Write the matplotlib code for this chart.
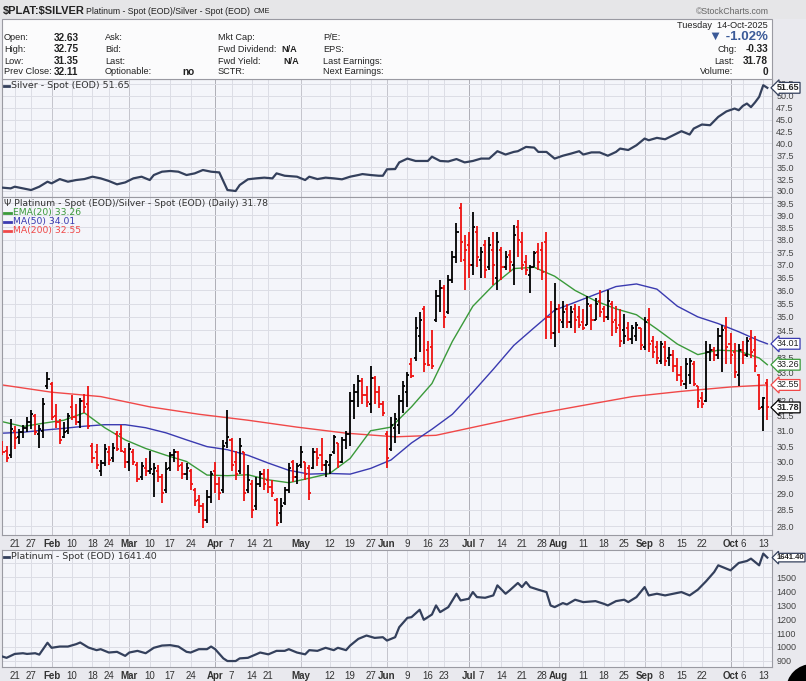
import pandas as pd
import matplotlib
matplotlib.use('Agg')
import matplotlib.pyplot as plt
from matplotlib.lines import Line2D
from matplotlib.patches import Rectangle, Ellipse
from matplotlib.ticker import FixedLocator, NullLocator, FixedFormatter

plt.rcParams['font.family'] = ['Liberation Sans', 'DejaVu Sans']

# trading days shown on the chart (US market holidays skipped)
holidays = ['2025-01-20', '2025-02-17', '2025-04-18', '2025-05-26',
            '2025-06-19', '2025-07-04', '2025-09-01']
days = pd.bdate_range('2025-01-15', '2025-10-14', freq='C', holidays=holidays)

# x axis labels (month names bold)
tick_dates = ['2025-01-21', '2025-01-27', '2025-02-03', '2025-02-10', '2025-02-18', '2025-02-24',
              '2025-03-03', '2025-03-10', '2025-03-17', '2025-03-24', '2025-04-01', '2025-04-07',
              '2025-04-14', '2025-04-21', '2025-05-01', '2025-05-12', '2025-05-19', '2025-05-27',
              '2025-06-02', '2025-06-09', '2025-06-16', '2025-06-23', '2025-07-01', '2025-07-07',
              '2025-07-14', '2025-07-21', '2025-07-28', '2025-08-01', '2025-08-11', '2025-08-18',
              '2025-08-25', '2025-09-02', '2025-09-08', '2025-09-15', '2025-09-22', '2025-10-01',
              '2025-10-06', '2025-10-13']
tick_labels = ['21', '27', 'Feb', '10', '18', '24', 'Mar', '10', '17', '24', 'Apr', '7',
               '14', '21', 'May', '12', '19', '27', 'Jun', '9', '16', '23', 'Jul', '7',
               '14', '21', '28', 'Aug', '11', '18', '25', 'Sep', '8', '15', '22', 'Oct',
               '6', '13']
months = ['Feb', 'Mar', 'Apr', 'May', 'Jun', 'Jul', 'Aug', 'Sep', 'Oct']
quarters = ['Apr', 'Jul', 'Oct']

# Platinum/Silver ratio, daily OHLC
opens = [30.55, 30.35, 30.20, 31.00, 30.80, 30.95, 31.10, 31.30, 31.50, 30.90,
         31.00, 32.50, 32.60, 31.50, 31.30, 30.80, 31.00, 31.80, 31.45, 31.30,
         32.00, 31.90, 30.50, 30.30, 29.70, 29.95, 30.30, 30.10, 30.90, 30.90,
         30.30, 30.00, 30.30, 29.90, 29.50, 29.80, 29.70, 29.60, 29.70, 29.50,
         29.10, 29.80, 30.20, 30.30, 29.90, 29.60, 29.70, 29.10, 28.80, 28.60,
         28.20, 28.90, 29.70, 29.30, 29.10, 30.60, 30.70, 30.00, 29.70, 30.30,
         29.10, 29.30, 28.60, 29.30, 29.60, 29.40, 29.20, 28.80, 28.40, 28.70,
         29.10, 30.00, 29.50, 29.90, 30.00, 29.80, 29.80, 30.30, 30.20, 29.90,
         29.90, 30.30, 30.60, 30.00, 30.70, 30.90, 32.00, 32.30, 32.70, 32.20,
         31.90, 32.80, 32.30, 31.90, 30.90, 30.40, 31.10, 31.20, 32.00, 32.30,
         33.30, 33.50, 34.30, 35.30, 33.80, 33.90, 34.90, 35.80, 36.10, 35.20,
         36.40, 37.30, 39.30, 37.20, 37.80, 37.00, 38.30, 37.20, 37.80, 36.90,
         37.60, 36.50, 37.60, 36.90, 37.40, 37.00, 38.50, 37.90, 37.10, 36.60,
         36.90, 37.50, 37.60, 37.90, 35.00, 34.40, 35.30, 34.80, 35.30, 34.80,
         35.30, 35.00, 34.80, 34.70, 35.40, 34.90, 35.60, 35.30, 35.00, 35.50,
         34.90, 34.70, 34.50, 34.60, 34.20, 34.30, 34.60, 33.90, 34.90, 34.10,
         33.90, 33.40, 33.90, 33.50, 33.60, 33.20, 32.90, 32.60, 32.90, 33.30,
         32.50, 32.10, 32.00, 33.70, 33.80, 33.60, 34.30, 34.60, 34.00, 33.70,
         32.90, 33.80, 33.60, 34.20, 33.80, 32.90, 31.80, 32.63]
highs = [30.65, 30.50, 31.40, 31.15, 31.05, 31.20, 31.45, 31.70, 31.55, 31.20,
         32.10, 33.00, 32.65, 31.90, 31.40, 31.30, 31.60, 32.20, 31.90, 32.10,
         32.25, 32.50, 30.60, 30.55, 30.05, 30.55, 30.50, 30.60, 31.00, 31.20,
         30.45, 30.60, 30.40, 30.00, 30.00, 30.10, 30.35, 29.95, 29.90, 29.60,
         30.00, 30.30, 30.40, 30.35, 30.00, 29.95, 29.75, 29.15, 28.95, 28.70,
         29.10, 29.70, 30.00, 29.50, 30.70, 31.70, 30.75, 30.35, 30.75, 30.30,
         29.90, 29.40, 29.50, 29.70, 29.75, 29.75, 29.40, 28.85, 28.85, 29.20,
         29.95, 30.05, 29.95, 30.50, 30.00, 29.90, 30.45, 30.45, 30.75, 30.05,
         30.25, 30.85, 30.60, 30.80, 31.00, 32.30, 32.60, 32.90, 32.80, 32.50,
         33.20, 32.85, 32.50, 32.00, 31.00, 31.45, 31.60, 32.20, 32.70, 33.00,
         33.50, 35.00, 35.20, 35.40, 34.10, 34.50, 36.00, 36.40, 36.20, 36.60,
         37.55, 38.70, 39.50, 38.20, 38.30, 39.15, 38.55, 37.70, 38.00, 38.10,
         38.30, 38.30, 37.70, 37.55, 37.60, 38.60, 38.80, 38.30, 37.40, 37.00,
         37.55, 37.85, 37.90, 38.30, 35.60, 36.30, 35.50, 35.60, 35.50, 35.40,
         35.50, 35.40, 35.30, 35.80, 35.50, 35.70, 36.00, 35.40, 36.00, 35.60,
         35.40, 35.30, 35.10, 34.80, 34.70, 34.80, 34.60, 35.00, 35.35, 34.30,
         34.10, 34.10, 34.10, 33.90, 33.80, 33.50, 33.20, 33.50, 33.50, 33.40,
         32.50, 32.30, 34.10, 34.00, 33.90, 34.60, 34.70, 35.00, 34.40, 34.05,
         34.00, 34.10, 34.25, 34.50, 34.30, 32.95, 32.15, 32.75]
lows = [30.20, 30.00, 30.10, 30.40, 30.55, 30.75, 30.95, 31.05, 30.85, 30.45,
        30.75, 32.40, 31.35, 31.10, 30.55, 30.75, 30.90, 31.35, 31.20, 31.10,
        31.60, 31.05, 29.95, 29.75, 29.55, 29.85, 29.90, 30.00, 30.35, 30.30,
        29.80, 29.70, 29.90, 29.35, 29.40, 29.55, 29.60, 28.90, 29.35, 28.70,
        29.00, 29.70, 30.00, 29.70, 29.45, 29.40, 29.10, 28.60, 28.40, 27.95,
        28.10, 28.70, 29.00, 28.80, 29.00, 30.45, 29.70, 29.40, 29.60, 28.75,
        29.00, 28.25, 28.50, 29.20, 29.10, 29.00, 28.90, 28.00, 28.10, 28.65,
        29.00, 29.35, 29.30, 29.80, 29.40, 28.80, 29.75, 29.85, 29.70, 29.50,
        29.60, 30.25, 29.80, 29.95, 30.40, 30.50, 31.40, 31.80, 31.90, 31.80,
        31.60, 31.90, 31.75, 31.50, 29.80, 30.35, 30.60, 30.90, 31.60, 31.80,
        32.80, 33.40, 33.70, 33.00, 33.20, 33.10, 34.80, 35.20, 34.60, 35.10,
        36.30, 37.05, 37.10, 36.00, 36.50, 36.60, 36.90, 36.50, 36.50, 36.80,
        36.20, 36.00, 36.40, 36.80, 36.70, 36.20, 37.30, 36.80, 36.60, 35.90,
        36.90, 36.80, 36.40, 34.20, 34.20, 33.90, 34.40, 34.60, 34.60, 34.60,
        34.40, 34.60, 34.50, 34.70, 34.50, 34.90, 35.00, 34.80, 34.90, 34.30,
        34.40, 33.90, 34.00, 34.10, 34.00, 34.10, 33.80, 33.80, 33.70, 33.50,
        33.30, 33.30, 33.20, 33.20, 33.00, 32.70, 32.50, 32.40, 32.60, 32.50,
        31.75, 31.75, 31.95, 33.40, 33.40, 33.45, 33.00, 33.30, 33.30, 32.80,
        32.50, 33.30, 33.55, 33.50, 33.00, 31.70, 31.00, 31.35]
closes = [30.30, 30.10, 31.05, 30.75, 30.95, 31.10, 31.30, 31.55, 30.95, 31.05,
          31.90, 32.75, 31.45, 31.30, 30.70, 30.95, 31.50, 31.45, 31.30, 32.00,
          31.80, 31.15, 30.10, 29.90, 29.95, 30.40, 30.05, 30.45, 30.40, 30.35,
          30.00, 30.40, 30.00, 29.45, 29.85, 29.70, 29.75, 29.80, 29.50, 29.00,
          29.75, 30.20, 30.30, 29.85, 29.60, 29.80, 29.30, 28.75, 28.60, 28.20,
          28.90, 29.60, 29.30, 29.00, 30.50, 30.80, 29.90, 29.60, 30.50, 29.00,
          29.40, 28.50, 29.30, 29.60, 29.30, 29.20, 29.00, 28.10, 28.60, 29.10,
          29.80, 29.50, 29.85, 30.30, 29.60, 29.00, 30.30, 30.10, 29.90, 30.00,
          30.20, 30.80, 30.00, 30.70, 30.90, 32.00, 32.30, 32.70, 32.20, 31.95,
          32.80, 32.30, 31.90, 31.60, 30.10, 31.20, 31.40, 32.00, 32.50, 32.90,
          32.85, 34.60, 34.90, 33.30, 33.25, 33.20, 35.80, 36.10, 35.00, 36.40,
          37.30, 38.30, 37.90, 37.60, 37.00, 38.50, 37.30, 37.50, 36.80, 37.80,
          37.00, 37.90, 36.90, 37.30, 37.10, 38.20, 38.00, 37.00, 36.80, 36.90,
          37.45, 37.10, 36.70, 35.00, 34.40, 35.30, 34.90, 35.20, 34.80, 35.20,
          34.90, 34.70, 34.60, 35.50, 34.90, 35.50, 35.20, 35.00, 35.60, 34.80,
          34.60, 34.10, 34.30, 34.20, 34.60, 34.70, 33.95, 34.80, 34.00, 33.70,
          33.50, 34.00, 33.40, 33.60, 33.20, 32.90, 32.70, 33.30, 33.40, 32.60,
          32.00, 31.90, 33.70, 33.80, 33.60, 34.30, 34.50, 33.90, 33.60, 33.00,
          33.80, 33.60, 34.10, 33.70, 33.20, 31.75, 32.11, 31.78]
prev_close_first = 30.60

# overlays (bar index, value)
ema20_idx = [0, 5, 10, 15, 20, 25, 30, 35, 40, 45, 50, 55, 60, 65, 70, 75, 80, 85, 90, 95,
             100, 105, 110, 115, 120, 125, 130, 135, 140, 145, 150, 155, 160, 165, 170, 175,
             180, 185, 187]
ema20_val = [31.30, 31.14, 31.25, 31.35, 31.60, 31.10, 30.70, 30.42, 30.20, 30.00,
             29.57, 29.55, 29.58, 29.42, 29.33, 29.47, 29.62, 30.10, 31.00, 31.12,
             31.80, 32.60, 34.10, 35.40, 36.20, 36.85, 36.90, 36.55, 36.00, 35.60,
             35.30, 35.08, 34.55, 34.00, 33.62, 33.78, 33.75, 33.50, 33.26]
ma50_idx = [0, 5, 10, 15, 20, 25, 30, 35, 40, 45, 50, 55, 60, 65, 70, 75, 80, 85, 90, 95,
            100, 105, 110, 115, 120, 125, 130, 135, 140, 145, 150, 155, 160, 165, 170, 175,
            180, 185, 187]
ma50_val = [30.92, 30.95, 31.02, 31.08, 31.15, 31.20, 31.20, 31.10, 30.93, 30.70,
            30.48, 30.38, 30.20, 29.95, 29.72, 29.60, 29.62, 29.60, 29.78, 30.05,
            30.60, 31.05, 31.55, 32.30, 33.10, 33.95, 34.60, 35.25, 35.55, 35.85,
            36.15, 36.25, 36.05, 35.40, 35.00, 34.75, 34.45, 34.12, 34.01]
ma200_idx = [0, 12, 24, 36, 48, 60, 72, 84, 96, 106, 118, 130, 142, 154, 166, 178, 187]
ma200_val = [32.55, 32.30, 32.15, 31.80, 31.55, 31.35, 31.12, 30.92, 30.80, 30.85,
             31.20, 31.55, 31.85, 32.15, 32.33, 32.48, 32.55]

# Silver spot close (bar index, value)
silver_idx = [0, 2, 3, 5, 7, 9, 11, 12, 14, 16, 18, 20, 22, 24, 26, 28, 30, 32, 34, 36,
              37, 39, 41, 43, 45, 47, 49, 51, 53, 55, 57, 58, 60, 62, 64, 66, 67, 69, 72, 74,
              75, 77, 79, 81, 83, 85, 87, 88, 90, 92, 93, 94, 96, 97, 99, 101, 104, 105, 107, 109,
              111, 113, 115, 117, 119, 121, 123, 125, 126, 128, 130, 131, 133, 135, 137, 139, 141, 142, 144, 146,
              148, 150, 151, 153, 155, 157, 158, 160, 162, 164, 166, 168, 169, 171, 173, 175, 177, 179, 180, 181,
              182, 183, 184, 185, 186, 187]
silver_val = [30.70, 30.55, 30.90, 30.55, 30.20, 30.90, 31.95, 31.60, 32.50, 31.95, 32.30, 32.50, 33.00, 32.65, 32.10, 31.40, 31.80, 32.65, 33.00, 32.30,
              33.35, 34.05, 34.20, 34.05, 33.35, 33.70, 34.40, 34.05, 33.90, 30.20, 30.00, 31.25, 32.45, 32.65, 32.80, 32.65, 33.70, 33.20, 33.00, 32.30,
              33.00, 32.50, 32.80, 32.65, 32.45, 33.00, 33.35, 33.55, 33.35, 33.20, 33.20, 34.55, 34.60, 36.00, 36.80, 36.30, 36.30, 37.20, 36.30, 36.20,
              36.70, 36.00, 36.30, 36.80, 36.80, 38.35, 37.65, 38.20, 38.35, 39.25, 39.10, 38.20, 38.20, 36.80, 37.40, 37.85, 38.35, 37.65, 38.10, 38.10,
              37.40, 38.20, 38.90, 38.60, 39.60, 41.00, 40.65, 41.15, 40.85, 41.70, 42.55, 41.85, 43.10, 43.95, 43.80, 45.55, 46.70, 47.30, 46.95, 47.85,
              48.35, 47.60, 48.60, 49.75, 52.20, 51.65]

# Platinum spot close (bar index, value)
plat_idx = [0, 1, 3, 5, 6, 8, 9, 11, 12, 14, 16, 18, 19, 21, 23, 24, 26, 28, 30, 31,
            33, 35, 37, 39, 41, 43, 45, 46, 48, 50, 51, 52, 54, 55, 57, 58, 60, 62, 63, 65,
            67, 69, 70, 72, 74, 75, 77, 79, 81, 82, 84, 85, 87, 89, 91, 93, 94, 96, 97, 99,
            100, 102, 103, 105, 106, 107, 109, 111, 112, 114, 115, 116, 118, 120, 121, 123, 124, 126, 127, 128,
            129, 131, 133, 134, 135, 137, 138, 140, 142, 145, 147, 148, 150, 152, 153, 155, 157, 158, 160, 162,
            164, 166, 168, 170, 172, 174, 175, 177, 178, 180, 182, 183, 185, 186, 187]
plat_val = [931, 922, 950, 955, 950, 955, 945, 1030, 994, 1003, 1003, 1020, 1032, 996, 977, 984, 960, 965, 936, 960,
            972, 955, 994, 1010, 1013, 1003, 965, 960, 984, 984, 1003, 984, 918, 899, 899, 918, 922, 947, 960, 947,
            972, 972, 984, 960, 947, 977, 972, 994, 977, 994, 977, 1010, 1058, 1082, 1065, 1070, 1046, 1070, 1142, 1209,
            1214, 1267, 1195, 1233, 1298, 1250, 1286, 1382, 1334, 1346, 1394, 1358, 1353, 1370, 1442, 1382, 1406, 1459, 1430, 1466,
            1430, 1411, 1394, 1298, 1286, 1315, 1305, 1339, 1322, 1329, 1310, 1298, 1329, 1339, 1322, 1358, 1430, 1370, 1382, 1370,
            1382, 1394, 1370, 1411, 1471, 1538, 1586, 1562, 1550, 1603, 1617, 1634, 1586, 1670, 1641.40]

main_ticks = [28.0, 28.5, 29.0, 29.5, 30.0, 30.5, 31.0, 31.5, 32.0, 32.5, 33.0, 33.5, 34.0,
              34.5, 35.0, 35.5, 36.0, 36.5, 37.0, 37.5, 38.0, 38.5, 39.0, 39.5]
silver_ticks = [30.0, 32.5, 35.0, 37.5, 40.0, 42.5, 45.0, 47.5, 50.0, 52.5]
plat_ticks = [900, 1000, 1100, 1200, 1300, 1400, 1500, 1600, 1700]

W, H = 806, 681
fig = plt.figure(figsize=(W / 100, H / 100), dpi=100)
fig.patch.set_facecolor('#e9e9ee')


def box(x0, y0, x1, y1):
    return [x0 / W, 1 - y1 / H, (x1 - x0) / W, (y1 - y0) / H]


def ftext(x, y, s, **kw):
    kw.setdefault('va', 'center')
    kw.setdefault('fontsize', 6.6)
    kw.setdefault('color', '#222222')
    fig.text(x / W, 1 - y / H, s, **kw)


tick_pos = [days.searchsorted(pd.Timestamp(d)) for d in tick_dates]
xs = list(range(len(days)))
x_lim = (-0.12, 188.14)
narrow = ['Liberation Sans Narrow', 'Liberation Sans', 'DejaVu Sans']


def style_panel(ax, yticks, fmt, show_dates, hidden=()):
    ax.set_facecolor('#f4f5fa')
    ax.set_xlim(*x_lim)
    for p, lab in zip(tick_pos, tick_labels):
        if lab in quarters:
            c = '#aeaeb6'
        elif lab in months:
            c = '#c4c4cc'
        else:
            c = '#dcdde5'
        ax.axvline(p, color=c, lw=0.7, zorder=0)
    for t in yticks:
        ax.axhline(t, color='#dcdde5', lw=0.7, zorder=0)
    ax.yaxis.tick_right()
    ax.yaxis.set_major_locator(FixedLocator(yticks))
    ax.yaxis.set_minor_locator(NullLocator())
    # labels sitting under a last-value tag are covered in the original
    ax.yaxis.set_major_formatter(FixedFormatter(['' if t in hidden else fmt % t for t in yticks]))
    ax.tick_params(axis='y', length=0, pad=3, labelsize=6.5, labelcolor='#444444')
    for lab in ax.get_yticklabels():
        lab.set_family(narrow)
    ax.set_xticks(tick_pos)
    ax.set_xticklabels(tick_labels)
    ax.tick_params(axis='x', length=0, pad=3, labelsize=7, labelcolor='#333333',
                   labelbottom=show_dates)
    for lab in ax.get_xticklabels():
        if lab.get_text() in months:
            lab.set_fontweight('bold')
    for s in ax.spines.values():
        s.set_color('#9a9aa2')
        s.set_linewidth(0.8)


# header strip and info box
fig.patches.append(Rectangle((0, 1 - 19 / H), 1, 19 / H, transform=fig.transFigure,
                             fc='#e6e6e8', ec='none', zorder=0))
fig.patches.append(Rectangle((2 / W, 1 - 79 / H), 770 / W, 60 / H, transform=fig.transFigure,
                             fc='#fbfbfc', ec='#9a9aa2', lw=0.8, zorder=0))
ftext(3, 11, r'\$PLAT:\$SILVER', fontsize=8, fontweight='bold', family=narrow)
ftext(86, 11.5, 'Platinum - Spot (EOD)/Silver - Spot (EOD)', fontsize=6.3, family=narrow)
ftext(254, 11.5, 'CME', fontsize=5.3)
ftext(769, 11.5, '\u00a9StockCharts.com', fontsize=6.3, color='#666666', ha='right', family=narrow)

rows = [38, 49, 61, 72]
for y, a, b in zip(rows, ['Open:', 'High:', 'Low:', 'Prev Close:'], ['32.63', '32.75', '31.35', '32.11']):
    ftext(4, y, a, family=narrow)
    ftext(54, y, b, fontweight='bold', fontsize=7.2, family=narrow)
for y, a in zip(rows, ['Ask:', 'Bid:', 'Last:', 'Optionable:']):
    ftext(105, y, a, family=narrow)
ftext(182, 72, 'no', fontweight='bold', fontsize=7.2, family=narrow)
for y, a in zip(rows, ['Mkt Cap:', 'Fwd Dividend:', 'Fwd Yield:', 'SCTR:']):
    ftext(218, y, a, family=narrow)
ftext(281, 49, 'N/A', fontweight='bold', family=narrow)
ftext(283, 61, 'N/A', fontweight='bold', family=narrow)
for y, a in zip(rows, ['P/E:', 'EPS:', 'Last Earnings:', 'Next Earnings:']):
    ftext(323, y, a, family=narrow)
ftext(768, 25, 'Tuesday  14-Oct-2025', ha='right', family=narrow)
ftext(768, 37, '\u25bc -1.02%', ha='right', fontsize=9.5, fontweight='bold', color='#3b5a98', family=narrow)
ftext(718, 49, 'Chg:', family=narrow)
ftext(768, 49, '-0.33', ha='right', fontweight='bold', fontsize=7.2, family=narrow)
ftext(714, 61, 'Last:', family=narrow)
ftext(768, 61, '31.78', ha='right', fontweight='bold', fontsize=7.2, family=narrow)
ftext(700, 72, 'Volume:', family=narrow)
ftext(768, 72, '0', ha='right', fontweight='bold', fontsize=7.2, family=narrow)

line_col = '#34405c'

# silver panel
ax_top = fig.add_axes(box(2, 79, 772, 197))
style_panel(ax_top, silver_ticks, '%.1f', False)
ax_top.set_ylim(28.74, 53.5)
ax_top.plot(silver_idx, silver_val, color=line_col, lw=1.6, zorder=3)

# main ratio panel (log scale)
ax = fig.add_axes(box(2, 197, 772, 535))
ax.set_yscale('log')
style_panel(ax, main_ticks, '%.1f', True, hidden=(32.5, 34.0))
ax.set_ylim(27.74, 39.77)

ax.plot(ma200_idx, ma200_val, color='#f04848', lw=1.0, zorder=2)
ax.plot(ma50_idx, ma50_val, color='#3a3ab0', lw=1.0, zorder=2)
ax.plot(ema20_idx, ema20_val, color='#3a9a3a', lw=1.0, zorder=2)

prev = [prev_close_first] + closes[:-1]
cols = ['#000000' if c >= p else '#ee1111' for c, p in zip(closes, prev)]
ax.vlines(xs, lows, highs, colors=cols, lw=1.3, zorder=3)
ax.hlines(opens, [x - 0.5 for x in xs], xs, colors=cols, lw=1.3, zorder=3)
ax.hlines(closes, xs, [x + 0.5 for x in xs], colors=cols, lw=1.3, zorder=3)

# bottom platinum panel
ax_bot = fig.add_axes(box(2, 550, 772, 666.6))
style_panel(ax_bot, plat_ticks, '%d', True, hidden=(1600,))
ax_bot.set_ylim(859, 1696)
ax_bot.plot(plat_idx, plat_val, color=line_col, lw=1.6, zorder=3)

# legends inside panels
mono = ['DejaVu Sans']
fig.lines.append(Line2D([4 / W, 9 / W], [1 - 85.5 / H] * 2, transform=fig.transFigure, color=line_col, lw=2))
ftext(11, 85.5, 'Silver - Spot (EOD) 51.65', fontsize=6.8, family=mono, color='#333333')
ftext(4, 203.5, '\u03a8 Platinum - Spot (EOD)/Silver - Spot (EOD) (Daily) 31.78', fontsize=6.7,
      family=mono, color='#333333')
for y, s, c in [(212.5, 'EMA(20) 33.26', '#3a9a3a'), (221.5, 'MA(50) 34.01', '#3a3ab0'),
                (230.5, 'MA(200) 32.55', '#f04848')]:
    fig.lines.append(Line2D([4 / W, 11 / W], [1 - y / H] * 2, transform=fig.transFigure, color=c, lw=2))
    ftext(13, y, s, fontsize=6.7, family=mono, color=c)
fig.lines.append(Line2D([4 / W, 9 / W], [1 - 556.5 / H] * 2, transform=fig.transFigure, color=line_col, lw=2))
ftext(11, 556.5, 'Platinum - Spot (EOD) 1641.40', fontsize=6.8, family=mono, color='#333333')


# last value boxes on the right axis
def value_tag(axis, val, s, ec, bold=False, size=6.5):
    axis.text(1.006, val, s, transform=axis.get_yaxis_transform(), ha='left', va='center',
              fontsize=size, family=narrow, fontweight='bold' if bold else 'normal', color='#222222',
              bbox=dict(boxstyle='larrow,pad=0.1', fc='white', ec=ec, lw=0.9), zorder=5,
              clip_on=False)


value_tag(ax_top, 51.65, '51.65', line_col, True)
value_tag(ax, 34.01, '34.01', '#3a3ab0')
value_tag(ax, 33.26, '33.26', '#3a9a3a')
value_tag(ax, 32.55, '32.55', '#f04848')
value_tag(ax, 31.78, '31.78', '#000000', True)
value_tag(ax_bot, 1641.40, '1641.40', line_col, True, size=5.6)

fig.patches.append(Ellipse((812 / W, 1 - 690 / H), 52 / W, 52 / H, transform=fig.transFigure,
                           fc='#000000', ec='none'))

fig.savefig('out.png', dpi=100, facecolor=fig.get_facecolor())
